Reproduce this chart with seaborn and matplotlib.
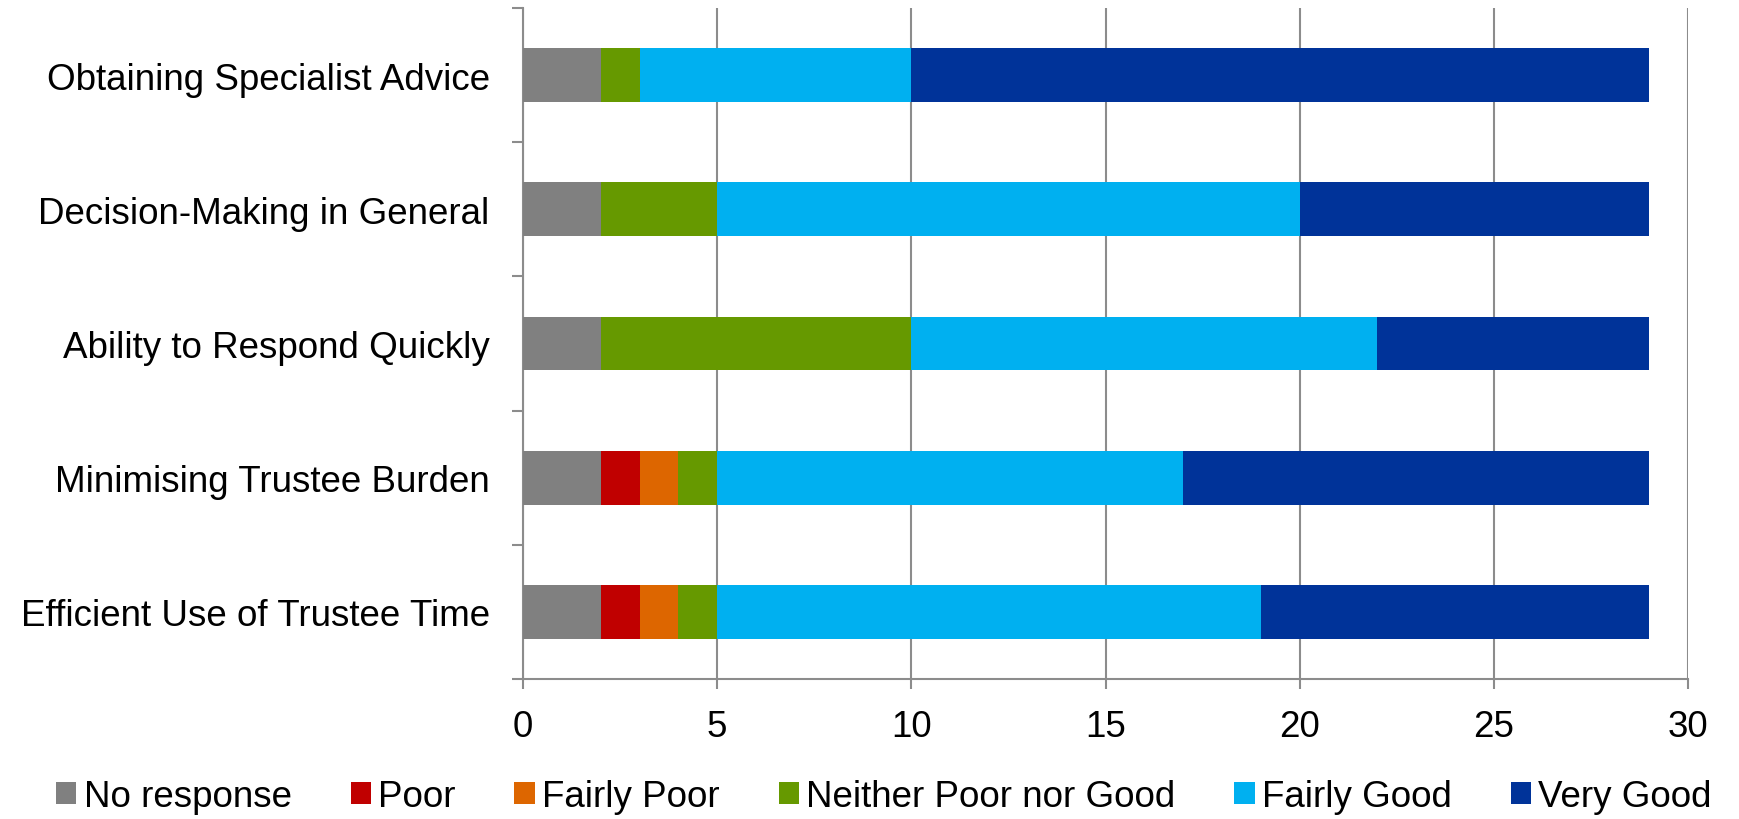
import numpy as np
import pandas as pd
import matplotlib
matplotlib.use("Agg")
import matplotlib.pyplot as plt
from matplotlib.patches import Patch
from matplotlib.ticker import FixedLocator
import seaborn as sns

categories = ["Obtaining Specialist Advice", "Decision-Making in General",
              "Ability to Respond Quickly", "Minimising Trustee Burden",
              "Efficient Use of Trustee Time"]
series_names = ["No response", "Poor", "Fairly Poor", "Neither Poor nor Good",
                "Fairly Good", "Very Good"]
no_response = [2, 2, 2, 2, 2]
poor = [0, 0, 0, 1, 1]
fairly_poor = [0, 0, 0, 1, 1]
neither = [1, 3, 8, 1, 1]
fairly_good = [7, 15, 12, 12, 14]
very_good = [19, 9, 7, 12, 10]
colors = ["#808080", "#C00000", "#DD6600", "#669900", "#00B0F0", "#003399"]
x_ticks = [0, 5, 10, 15, 20, 25, 30]

sns.set_theme(style="white")
plt.rcParams["font.family"] = ["Liberation Sans", "DejaVu Sans"]
plt.rcParams["text.color"] = "black"

fig = plt.figure(figsize=(17.4, 8.2), dpi=100)
ax = fig.add_axes([0.3006, 0.1707, 0.6695, 0.8183])

values = np.array([no_response, poor, fairly_poor, neither, fairly_good, very_good], dtype=float)
cum = np.cumsum(values, axis=0)

for i in range(len(series_names) - 1, -1, -1):
    df = pd.DataFrame({"cat": categories, "val": cum[i]})
    sns.barplot(data=df, x="val", y="cat", orient="h", color=colors[i],
                width=0.4, saturation=1, linewidth=0, ax=ax, zorder=3)

gray = "#8C8C8C"
fs = 26.5
ax.set_xlim(0, 30)
ax.set_ylim(len(categories) - 0.5, -0.5)
ax.set_xticks(x_ticks)
ax.set_xticklabels([str(t) for t in x_ticks])
ax.xaxis.grid(True, color=gray, linewidth=1.5, zorder=0)
ax.set_axisbelow(True)
ax.set_xlabel("")
ax.set_ylabel("")

for s in ["top", "right"]:
    ax.spines[s].set_visible(False)
for s in ["left", "bottom"]:
    ax.spines[s].set_color(gray)
    ax.spines[s].set_linewidth(1.5)

ax.yaxis.set_minor_locator(FixedLocator(np.arange(-0.5, len(categories), 1.0)))
ax.tick_params(axis="y", which="major", length=0, pad=24, labelsize=fs, labelcolor="black")
ax.tick_params(axis="y", which="minor", left=True, length=8, width=1.5, color=gray, direction="out")
ax.tick_params(axis="x", which="major", bottom=True, length=7.5, width=1.5, color=gray,
               direction="out", pad=14, labelsize=fs, labelcolor="black")

handles = [Patch(facecolor=c, edgecolor="none", label=n) for c, n in zip(colors, series_names)]
fig.legend(handles=handles, loc="center", bbox_to_anchor=(0.508, 0.027), ncol=6,
           frameon=False, fontsize=fs, handlelength=0.55, handleheight=0.55,
           handletextpad=0.2, columnspacing=1.6, borderaxespad=0, labelcolor="black")

fig.savefig("out.png", dpi=100)
